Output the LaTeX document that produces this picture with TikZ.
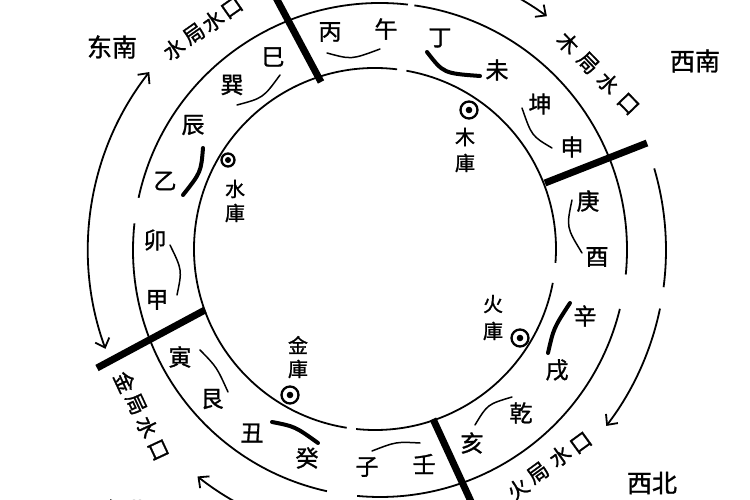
\documentclass[tikz,border=0pt]{standalone}
\usepackage{fontspec}
\newfontfamily\cjk[FakeBold=1.2]{Noto Sans CJK SC}
\usetikzlibrary{arrows.meta}
\begin{document}
\begin{tikzpicture}[x=1pt,y=1pt,
  ring/.style={line width=1.8pt},
  arr/.style={line width=1.8pt},
  tip/.style={-{Straight Barb[length=8pt,width=15pt]}},
  divider/.style={line width=7pt},
  thinpair/.style={line width=1.5pt, line cap=round},
  thickpair/.style={line width=4pt, line cap=round},
  gz/.style={inner sep=0pt, font=\cjk\fontsize{23}{23}\selectfont},
  ku/.style={inner sep=0pt, font=\cjk\fontsize{20}{20}\selectfont},
  ol/.style={inner sep=0pt, font=\cjk\fontsize{21}{21}\selectfont},
  dir/.style={inner sep=0pt, font=\cjk\fontsize{25}{25}\selectfont},
  kuring/.style={line width=2.3pt}
]
\useasboundingbox (0,0) rectangle (750,500);
\clip (0,0) rectangle (750,500);
\fill[white] (0,0) rectangle (750,500);

% centres
\coordinate (cin) at (375,251);
\coordinate (cout) at (380,250);
\coordinate (carr) at (377,250);

% inner circle with gaps
\draw[ring] (cin) ++(83:181) arc[start angle=83, end angle=261, radius=181];
\draw[ring] (cin) ++(264:181) arc[start angle=264, end angle=349.2, radius=181];
\draw[ring] (cin) ++(355.6:181) arc[start angle=355.6, end angle=440, radius=181];

% outer circle with gaps
\draw[ring] (cout) ++(83.5:247) arc[start angle=83.5, end angle=167.8, radius=247];
\draw[ring] (cout) ++(173.8:247) arc[start angle=173.8, end angle=257.6, radius=247];
\draw[ring] (cout) ++(264.7:247) arc[start angle=264.7, end angle=346.2, radius=247];
\draw[ring] (cout) ++(354.3:247) arc[start angle=354.3, end angle=442, radius=247];

% arrows
\draw[arr, {Straight Barb[length=8pt,width=15pt]}-{Straight Barb[length=8pt,width=15pt]}]
  (carr) ++(142:289) arc[start angle=142, end angle=200, radius=289];
\draw[arr, tip] (carr) ++(95:289) arc[start angle=95, end angle=54, radius=289];
\draw[arr] (carr) ++(16.4:289) arc[start angle=16.4, end angle=-7.4, radius=289];
\draw[arr, tip] (carr) ++(-11.7:289) arc[start angle=-11.7, end angle=-37.5, radius=289];
\draw[arr, tip] (carr) ++(250:289) arc[start angle=250, end angle=231.6, radius=289];

% dividers
\coordinate (d1a) at (274,506); \coordinate (d1b) at (321,418);
\coordinate (d2a) at (545,317); \coordinate (d2b) at (647,357);
\coordinate (d3a) at (97,132);  \coordinate (d3b) at (205,190);
\coordinate (d4a) at (433,81);  \coordinate (d4b) at (474,-8);
\draw[divider] (d1a) -- (d1b);
\draw[divider] (d2a) -- (d2b);
\draw[divider] (d3a) -- (d3b);
\draw[divider] (d4a) -- (d4b);

% ring characters
\node[gz] (bing) at (330,468) {丙};
\node[gz] (wu) at (386,471) {午};
\node[gz] (ding) at (440,462) {丁};
\node[gz] (wei) at (497,430) {未};
\node[gz] (kun) at (540,396) {坤};
\node[gz] (shen) at (572,353) {申};
\node[gz] (geng) at (588,299) {庚};
\node[gz] (you) at (597,243) {酉};
\node[gz] (xin) at (585,184) {辛};
\node[gz] (xu) at (557,130) {戌};
\node[gz] (qian) at (521,87) {乾};
\node[gz] (hai) at (472,57) {亥};
\node[gz] (ren) at (424,36) {壬};
\node[gz] (zi) at (367,33) {子};
\node[gz] (gui) at (307,42) {癸};
\node[gz] (chou) at (252,67) {丑};
\node[gz] (gen) at (212,101) {艮};
\node[gz] (yin) at (180,143) {寅};
\node[gz] (jia) at (157,200) {甲};
\node[gz] (mao) at (155,260) {卯};
\node[gz] (yi) at (165,319) {乙};
\node[gz] (chen) at (193,375) {辰};
\node[gz] (xun) at (232,415) {巽};
\node[gz] (si) at (273,443) {巳};

% pair arcs
\draw[thinpair] (327,447) .. controls (351.5,440.3) .. (380,451);
\draw[thickpair] (427,448) .. controls (443.5,426.7) .. (480,424);
\draw[thinpair] (522,392) .. controls (531.7,364) .. (552,352);
\draw[thinpair] (572,300) .. controls (566.3,272.8) .. (582,247);
\draw[thickpair] (570,197) .. controls (553.7,172) .. (548,147);
\draw[thinpair] (512,103) .. controls (487.5,95.7) .. (475,75);
\draw[thinpair] (420,57) .. controls (396,58.3) .. (372,49);
\draw[thickpair] (272,78) .. controls (295,73.5) .. (318,57);
\draw[thinpair] (200,150) .. controls (216.7,133) .. (228,108);
\draw[thinpair] (170,255) .. controls (182.2,230) .. (177,205);
\draw[thickpair] (203,352) .. controls (201,327.8) .. (183,305);
\draw[thinpair] (237,395) .. controls (263.2,402) .. (280,425);

% storage marks
\node[draw, circle, kuring, minimum size=13pt, inner sep=0pt] (shuiku) at (228,340) {};
\fill (shuiku.center) circle (3pt);
\node[ku] (shui1) at (235,311) {水};
\node[ku] (shui2) at (235,287) {庫};

\node[draw, circle, kuring, minimum size=17pt, inner sep=0pt] (muku) at (469,390) {};
\fill (muku.center) circle (3.3pt);
\node[ku] (mu1) at (465,363) {木};
\node[ku] (mu2) at (465,337) {庫};

\node[draw, circle, kuring, minimum size=17pt, inner sep=0pt] (huoku) at (520,162) {};
\fill (huoku.center) circle (3.3pt);
\node[ku] (huo1) at (493,196) {火};
\node[ku] (huo2) at (493,169) {庫};

\node[draw, circle, kuring, minimum size=17pt, inner sep=0pt] (jinku) at (290,105) {};
\fill (jinku.center) circle (3.3pt);
\node[ku] (jin1) at (298,155) {金};
\node[ku] (jin2) at (298,131) {庫};

% outer labels
\node[ol, rotate=35] (a1) at (174,451) {水};
\node[ol, rotate=35] (a2) at (194,466) {局};
\node[ol, rotate=35] (a3) at (213,479) {水};
\node[ol, rotate=35] (a4) at (232,492) {口};

\node[ol, rotate=-46] (b1) at (568,457) {木};
\node[ol, rotate=-46] (b2) at (588,437) {局};
\node[ol, rotate=-46] (b3) at (608,417) {水};
\node[ol, rotate=-46] (b4) at (628,396) {口};

\node[ol, rotate=-65] (c1) at (125,118) {金};
\node[ol, rotate=-65] (c2) at (136,96) {局};
\node[ol, rotate=-65] (c3) at (147,73) {水};
\node[ol, rotate=-65] (c4) at (158,50) {口};

\node[ol, rotate=36] (e1) at (518,11) {火};
\node[ol, rotate=36] (e2) at (538,27) {局};
\node[ol, rotate=36] (e3) at (560,44) {水};
\node[ol, rotate=36] (e4) at (581,57) {口};

% directions
\node[dir] (se) at (112,453) {东南};
\node[dir] (sw) at (695,439) {西南};
\node[dir] (nw) at (652,17) {西北};
\node[dir] (ne) at (125,-11) {东北};
\end{tikzpicture}
\end{document}
